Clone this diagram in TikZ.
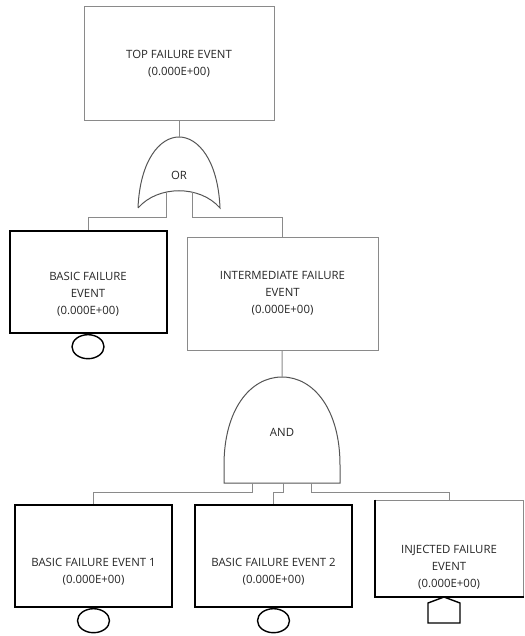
\documentclass[tikz,border=0pt]{standalone}
\usepackage{fontspec}
\setmainfont{Open Sans}
\usepackage{xcolor}
\usepackage{tikz}
\usetikzlibrary{shapes.geometric, positioning}
\definecolor{edgegray}{HTML}{8A8A8A}
\definecolor{gategray}{HTML}{555555}
\definecolor{textgray}{HTML}{262626}
\tikzstyle{evtext} = [align=center, text=textgray, font=\fontsize{11.4}{17}\selectfont]
\tikzstyle{event} = [rectangle, minimum width=190pt, minimum height=114pt, evtext, draw=edgegray, line width=1pt]
\tikzstyle{basic} = [event, draw=black, line width=2pt, minimum width=157pt, minimum height=102pt]
\tikzstyle{circmark} = [ellipse, draw=black, line width=1.4pt, minimum width=32pt, minimum height=24pt, inner sep=0pt]
\tikzstyle{gate} = [draw=gategray, line width=1pt]
\tikzstyle{line} = [draw=edgegray, line width=1pt]

\begin{document}
\begin{tikzpicture}[x=1pt, y=-1pt]
    \useasboundingbox (0,0) rectangle (524,636);
    % Nodes
    \node [event] (top) at (179,64) {TOP FAILURE EVENT \\ (0.000E+00)};
    \node [evtext] (orgate) at (179,175) {OR};
    \node [basic, label={[evtext, yshift=-12.5pt]center:BASIC FAILURE \\ EVENT \\ (0.000E+00)}] (bfe) at (88,282) {};
    \node [event, minimum width=191pt, minimum height=113pt] (ife) at (282.5,293.5) {INTERMEDIATE FAILURE \\ EVENT \\ (0.000E+00)};
    \node [evtext] (andgate) at (282,432) {AND};
    \node [basic, label={[evtext, yshift=-16pt]center:BASIC FAILURE EVENT 1 \\ (0.000E+00)}] (bfe1) at (93.5,556) {};
    \node [basic, label={[evtext, yshift=-16pt]center:BASIC FAILURE EVENT 2 \\ (0.000E+00)}] (bfe2) at (273.5,556) {};
    \node [event, minimum width=148pt, minimum height=96pt, label={[evtext, yshift=-19.5pt]center:INJECTED FAILURE \\ EVENT \\ (0.000E+00)}] (inj) at (449,548) {};
    \node [circmark, below=0pt of bfe] (bfemark) {};
    \node [circmark, below=0pt of bfe1] (bfe1mark) {};
    \node [circmark, below=0pt of bfe2] (bfe2mark) {};

    % Gates
    \coordinate (ortop) at (179,137);
    \coordinate (orin1) at (166,192);
    \coordinate (orin2) at (192,192);
    \coordinate (andtop) at (282,377);
    \coordinate (andin1) at (252,483);
    \coordinate (andin2) at (283,483);
    \coordinate (andin3) at (311,483);
    \draw [gate] (138,208) .. controls (140,160) and (160,137) .. (ortop)
        .. controls (198,137) and (218,160) .. (220,208)
        .. controls (200,185) and (158,185) .. (138,208);
    \draw [gate] (224,483) -- (224,465) .. controls (224,410) and (250,377) .. (andtop)
        .. controls (314,377) and (340,410) .. (340,465) -- (340,483) -- cycle;

    % injected event marks
    \draw [black, line width=2pt] (inj.north west) |- (inj.south east);
    \draw [black, line width=1.4pt] (428,623) -- (428,603) -- (444,597) -- (460,603) -- (460,623) -- cycle;

    % Edges
    \path [line] (top) -- (ortop);
    \path [line] (orin1) -- ++(0,25) -| (bfe);
    \path [line] (orin2) -- ++(0,25) -| (ife);
    \path [line] (ife) -- (andtop);
    \path [line] (andin1) -- ++(0,9) -| (bfe1);
    \path [line] (andin2) -- ++(0,9) -| (bfe2);
    \path [line] (andin3) -- ++(0,9) -| (inj);
\end{tikzpicture}
\end{document}
